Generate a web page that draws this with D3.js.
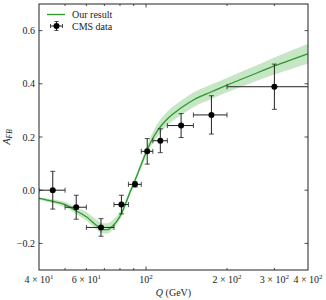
<!DOCTYPE html>
<html><head><meta charset="utf-8">
<script src="https://cdn.jsdelivr.net/npm/d3@7"></script>
<style>body{margin:0;background:#fff}svg{display:block}text{font-family:"Liberation Serif","DejaVu Serif",serif;fill:#222}</style>
</head><body><svg id="c" width="326" height="300"></svg>
<script>
// CMS data
const binLo  = [40, 50, 60, 76, 86, 96, 106, 120, 150, 200];
const binHi  = [50, 60, 76, 86, 96, 106, 120, 150, 200, 500];
const binQ   = [45, 55, 68, 81, 91, 101, 113, 135, 175, 300];
const dataA  = [0.0, -0.064, -0.140, -0.054, 0.022, 0.146, 0.186, 0.243, 0.283, 0.389];
const dataErr= [0.071, 0.045, 0.033, 0.035, 0.010, 0.048, 0.045, 0.045, 0.072, 0.085];
// theory curve
const curveQ   = [40, 45, 50, 55, 60, 65, 69, 72, 75, 78, 81, 84, 87, 90, 95, 100, 105, 110, 115, 120, 130, 140, 150, 175, 200, 250, 300, 350, 400];
const curveA   = [-0.031, -0.042, -0.054, -0.078, -0.1, -0.13, -0.148, -0.148, -0.135, -0.115, -0.088, -0.05, -0.01, 0.025, 0.085, 0.142, 0.188, 0.222, 0.248, 0.268, 0.297, 0.32, 0.339, 0.37, 0.395, 0.435, 0.467, 0.492, 0.513];
const curveUp  = [0.005, 0.007, 0.01, 0.014, 0.018, 0.022, 0.024, 0.024, 0.022, 0.018, 0.014, 0.012, 0.012, 0.012, 0.013, 0.016, 0.022, 0.026, 0.027, 0.028, 0.028, 0.028, 0.028, 0.027, 0.027, 0.029, 0.032, 0.035, 0.038];
const curveDn  = [0.005, 0.007, 0.01, 0.012, 0.014, 0.015, 0.015, 0.015, 0.015, 0.013, 0.012, 0.011, 0.011, 0.011, 0.012, 0.014, 0.018, 0.022, 0.024, 0.025, 0.026, 0.027, 0.027, 0.027, 0.027, 0.029, 0.032, 0.035, 0.038];
const yTicks = [-0.2, 0.0, 0.2, 0.4, 0.6];
const xMajor = [100];
const xMinor = [50, 60, 70, 80, 90, 200, 300];
const xLabels = [[40,"4","1"],[60,"6","1"],[100,null,"2"],[200,"2","2"],[300,"3","2"],[400,"4","2"]];

const svg = d3.select("#c");
const L=39, R=308, T=4, B=270;
const x = d3.scaleLog().domain([40,400]).range([L,R]);
const y = d3.scaleLinear().domain([-0.3,0.7]).range([B,T]);
const green = "#2a9a2a";

const defs = svg.append("defs");
defs.append("clipPath").attr("id","clip").append("rect").attr("x",L).attr("y",T).attr("width",R-L).attr("height",B-T);
const g = svg.append("g").attr("clip-path","url(#clip)");

const cd = curveQ.map((q,i)=>({q, a:curveA[i], u:curveA[i]+curveUp[i], d:curveA[i]-curveDn[i]}));
g.append("path").datum(cd).attr("fill","#c6e6c6").attr("stroke","none")
  .attr("d", d3.area().curve(d3.curveMonotoneX).x(d=>x(d.q)).y0(d=>y(d.d)).y1(d=>y(d.u)));
g.append("path").datum(cd).attr("fill","none").attr("stroke",green).attr("stroke-width",1.3)
  .attr("d", d3.line().curve(d3.curveMonotoneX).x(d=>x(d.q)).y(d=>y(d.a)));

// data
const ec = "#222", cap=2.5;
binQ.forEach((q,i)=>{
  const cx=x(q), cy=y(dataA[i]);
  const x0=x(binLo[i]), x1=x(binHi[i]);
  const y0=y(dataA[i]-dataErr[i]), y1=y(dataA[i]+dataErr[i]);
  g.append("line").attr("x1",x0).attr("x2",x1).attr("y1",cy).attr("y2",cy).attr("stroke",ec).attr("stroke-width",1);
  g.append("line").attr("x1",cx).attr("x2",cx).attr("y1",y0).attr("y2",y1).attr("stroke",ec).attr("stroke-width",1);
  [x0,x1].forEach(xx=>g.append("line").attr("x1",xx).attr("x2",xx).attr("y1",cy-cap).attr("y2",cy+cap).attr("stroke",ec).attr("stroke-width",0.8));
  [y0,y1].forEach(yy=>g.append("line").attr("x1",cx-cap).attr("x2",cx+cap).attr("y1",yy).attr("y2",yy).attr("stroke",ec).attr("stroke-width",0.8));
  g.append("circle").attr("cx",cx).attr("cy",cy).attr("r",3).attr("fill","#000");
});

// frame
svg.append("rect").attr("x",L).attr("y",T).attr("width",R-L).attr("height",B-T).attr("fill","none").attr("stroke","#222").attr("stroke-width",1);
const tk = svg.append("g").attr("stroke","#222").attr("stroke-width",0.8);
yTicks.forEach(v=>{
  tk.append("line").attr("x1",L).attr("x2",L+3.5).attr("y1",y(v)).attr("y2",y(v));
  tk.append("line").attr("x1",R).attr("x2",R-3.5).attr("y1",y(v)).attr("y2",y(v));
  svg.append("text").attr("x",L-4).attr("y",y(v)+3.5).attr("text-anchor","end").attr("font-size",10)
    .text(v<0? "\u2212"+Math.abs(v).toFixed(1) : v.toFixed(1));
});
xMajor.forEach(v=>{
  tk.append("line").attr("x1",x(v)).attr("x2",x(v)).attr("y1",B).attr("y2",B-3.5);
  tk.append("line").attr("x1",x(v)).attr("x2",x(v)).attr("y1",T).attr("y2",T+3.5);
});
xMinor.forEach(v=>{
  tk.append("line").attr("x1",x(v)).attr("x2",x(v)).attr("y1",B).attr("y2",B-2);
  tk.append("line").attr("x1",x(v)).attr("x2",x(v)).attr("y1",T).attr("y2",T+2);
});
xLabels.forEach(([v,m,e])=>{
  const t = svg.append("text").attr("x",x(v)).attr("y",283).attr("text-anchor","middle").attr("font-size",10);
  if(m){ t.append("tspan").text(m+" \u00d7 10"); }
  else { t.append("tspan").text("10"); }
  t.append("tspan").attr("dy",-4).attr("font-size",7).text(e);
});
// axis titles
const xt = svg.append("text").attr("x",(L+R)/2).attr("y",296).attr("text-anchor","middle").attr("font-size",10);
xt.append("tspan").attr("font-style","italic").text("Q");
xt.append("tspan").text(" (GeV)");
const yt = svg.append("text").attr("transform",`translate(10,${(T+B)/2}) rotate(-90)`).attr("text-anchor","middle").attr("font-size",10.5);
yt.append("tspan").attr("font-style","italic").text("A");
yt.append("tspan").attr("font-style","italic").attr("font-size",7.5).attr("dy",2).text("FB");

// legend
const lg = svg.append("g");
lg.append("line").attr("x1",47).attr("x2",65).attr("y1",14.5).attr("y2",14.5).attr("stroke",green).attr("stroke-width",1.3);
lg.append("text").attr("x",72).attr("y",18).attr("font-size",10).text("Our result");
const mx=56.5, my=26;
lg.append("line").attr("x1",mx-6).attr("x2",mx+6).attr("y1",my).attr("y2",my).attr("stroke",ec);
lg.append("line").attr("x1",mx).attr("x2",mx).attr("y1",my-4.5).attr("y2",my+4.5).attr("stroke",ec);
lg.append("line").attr("x1",mx-2).attr("x2",mx+2).attr("y1",my-4.5).attr("y2",my-4.5).attr("stroke",ec).attr("stroke-width",0.8);
lg.append("line").attr("x1",mx-2).attr("x2",mx+2).attr("y1",my+4.5).attr("y2",my+4.5).attr("stroke",ec).attr("stroke-width",0.8);
lg.append("line").attr("x1",mx-6).attr("x2",mx-6).attr("y1",my-2).attr("y2",my+2).attr("stroke",ec).attr("stroke-width",0.8);
lg.append("line").attr("x1",mx+6).attr("x2",mx+6).attr("y1",my-2).attr("y2",my+2).attr("stroke",ec).attr("stroke-width",0.8);
lg.append("circle").attr("cx",mx).attr("cy",my).attr("r",3).attr("fill","#000");
lg.append("text").attr("x",72).attr("y",29.5).attr("font-size",10).text("CMS data");
</script></body></html>
